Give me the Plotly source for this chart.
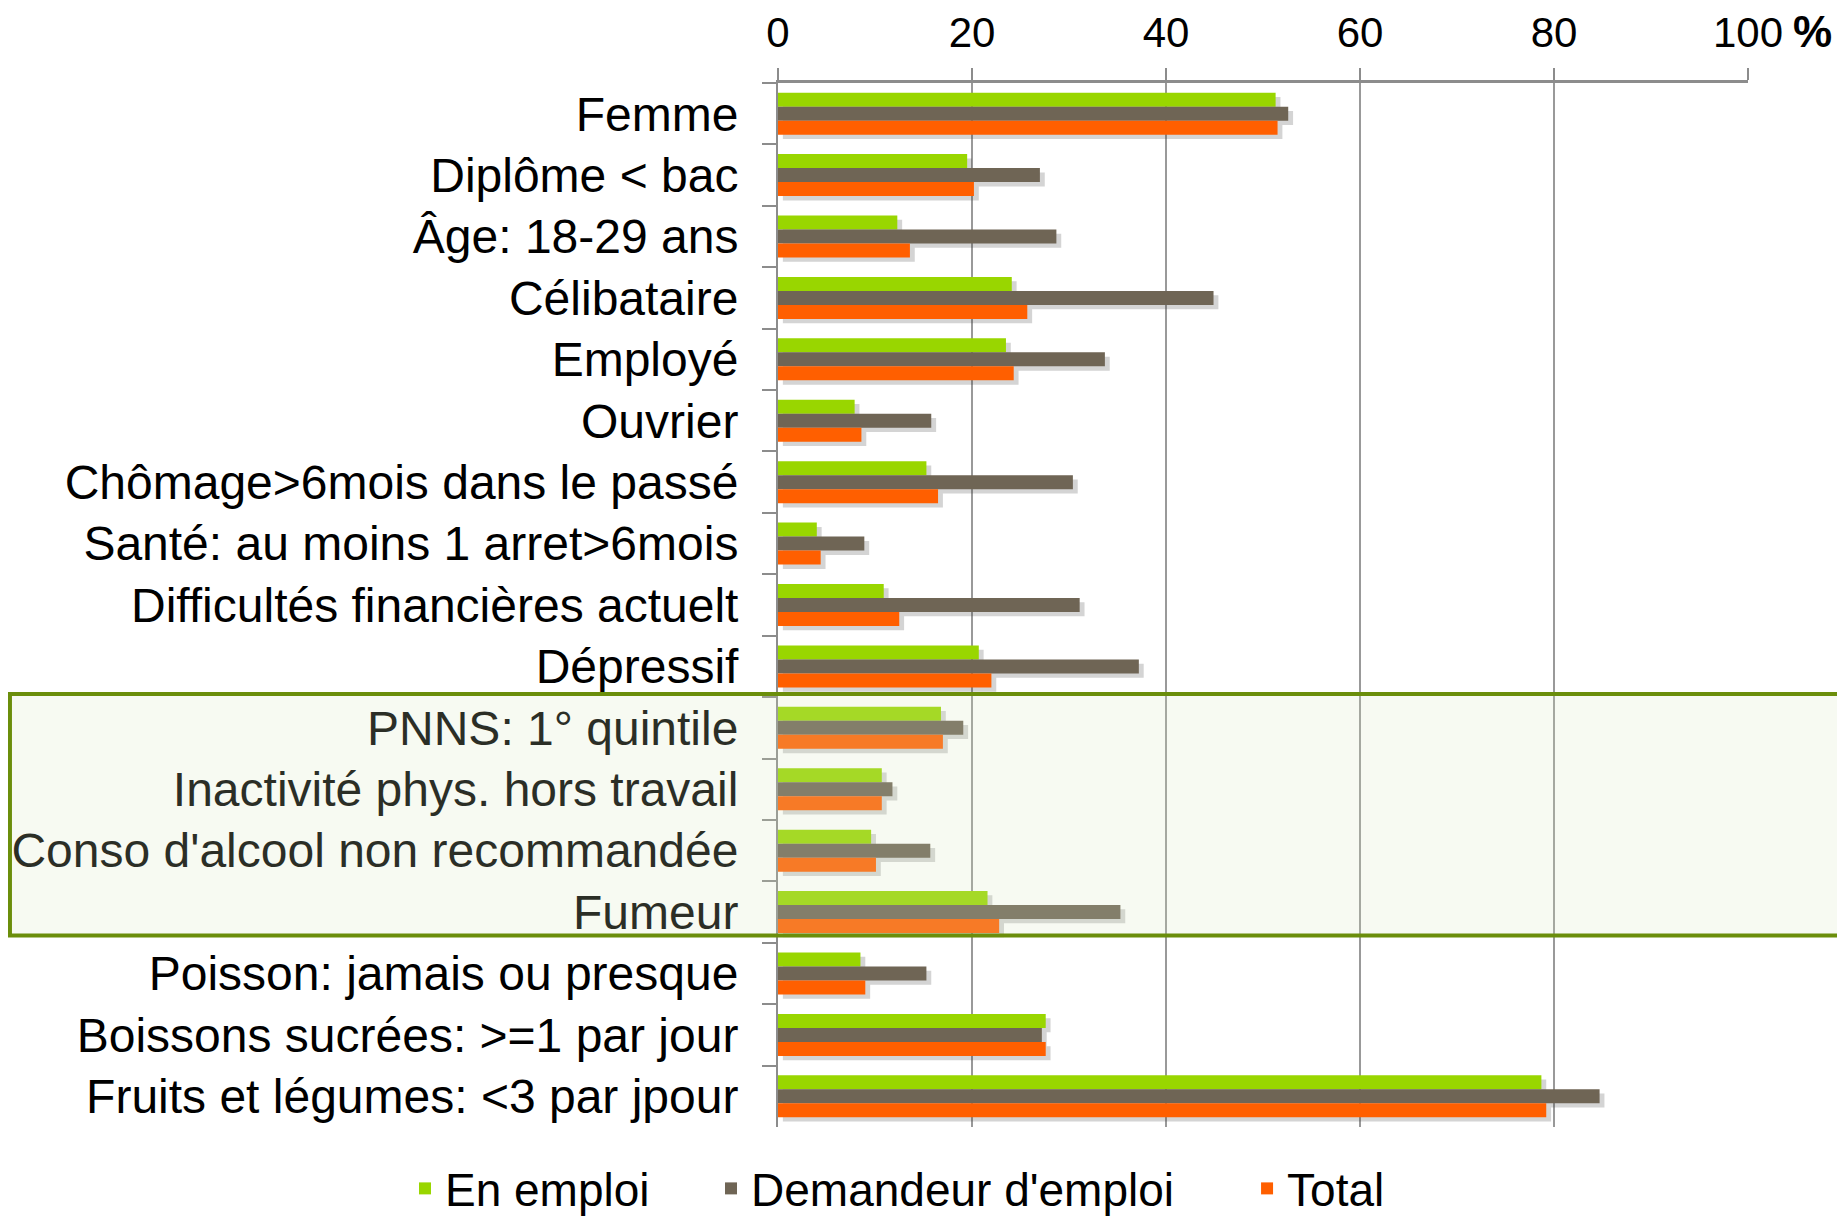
import plotly.graph_objects as go

# Categories (top to bottom) and series values, in %
categories = [
    "Femme",
    "Diplôme < bac",
    "Âge: 18-29 ans",
    "Célibataire",
    "Employé",
    "Ouvrier",
    "Chômage>6mois dans le passé",
    "Santé: au moins 1 arret>6mois",
    "Difficultés financières actuelt",
    "Dépressif",
    "PNNS: 1° quintile",
    "Inactivité phys. hors travail",
    "Conso d'alcool non recommandée",
    "Fumeur",
    "Poisson: jamais ou presque",
    "Boissons sucrées: >=1 par jour",
    "Fruits et légumes: <3 par jpour",
]
en_emploi = [51.3, 19.5, 12.3, 24.1, 23.5, 7.9, 15.3, 4.0, 10.9, 20.7,
             16.8, 10.7, 9.6, 21.6, 8.5, 27.6, 78.7]
demandeur = [52.6, 27.0, 28.7, 44.9, 33.7, 15.8, 30.4, 8.9, 31.1, 37.2,
             19.1, 11.8, 15.7, 35.3, 15.3, 27.2, 84.7]
total = [51.5, 20.2, 13.6, 25.7, 24.3, 8.6, 16.5, 4.4, 12.5, 22.0,
         17.0, 10.7, 10.1, 22.8, 9.0, 27.6, 79.2]

series = [
    ("En emploi", en_emploi, "#99d600", "legend"),
    ("Demandeur d'emploi", demandeur, "#6f6555", "legend2"),
    ("Total", total, "#ff5f00", "legend3"),
]

FONT = "Liberation Sans, Arial, sans-serif"
BAR_W = 0.228
offsets = [-0.342, -0.114, 0.114]

fig = go.Figure()

# soft drop shadows behind the bars
for (name, vals, color, leg), off in zip(series, offsets):
    fig.add_trace(go.Bar(
        y=categories, x=vals, base=0.5, orientation="h",
        width=BAR_W, offset=off + 0.07,
        marker=dict(color="rgba(60,60,60,0.22)", line=dict(width=0)),
        showlegend=False, hoverinfo="skip",
    ))

for (name, vals, color, leg), off in zip(series, offsets):
    fig.add_trace(go.Bar(
        y=categories, x=vals, name=name, orientation="h",
        width=BAR_W, offset=off,
        marker=dict(color=color, line=dict(width=0)),
        legend=leg, showlegend=True,
    ))

# highlighted block (PNNS .. Fumeur), drawn over the bars
fig.add_shape(type="rect", xref="paper", yref="paper",
              x0=-0.7918, x1=1.16, y0=0.1834, y1=0.4148,
              line=dict(color="#6b8e0b", width=4),
              fillcolor="rgba(215,230,190,0.2)", layer="above")

fig.add_annotation(text="<b>%</b>", xref="paper", yref="paper",
                   x=1.066, y=1.0498, xanchor="center", yanchor="middle",
                   showarrow=False, font=dict(size=44, color="#000", family=FONT))

legend_common = dict(orientation="h", xref="container", yref="container",
                     yanchor="middle", y=0.026, xanchor="left",
                     font=dict(size=46, color="#000", family=FONT),
                     bgcolor="rgba(0,0,0,0)")

# page body has an 8px margin, so the figure is 8px smaller than the window
fig.update_layout(
    width=1837, height=1212,
    margin=dict(l=770, r=97, t=75, b=93, autoexpand=False),
    plot_bgcolor="white", paper_bgcolor="white",
    showlegend=True,
    barmode="overlay",
    font=dict(family=FONT, color="#000"),
    legend=dict(x=0.2161, **legend_common),
    legend2=dict(x=0.3827, **legend_common),
    legend3=dict(x=0.6745, **legend_common),
    xaxis=dict(
        side="top", range=[0, 100], dtick=20, automargin=False,
        showgrid=True, gridcolor="#999999", gridwidth=2,
        showline=True, linecolor="#8c8c8c", linewidth=3,
        ticks="outside", ticklen=12, tickcolor="#8c8c8c", tickwidth=2,
        ticklabelstandoff=4,
        tickfont=dict(size=42, color="#000", family=FONT),
        zeroline=False,
    ),
    yaxis=dict(
        categoryorder="array", categoryarray=categories, autorange="reversed",
        automargin=False,
        showline=True, linecolor="#8c8c8c", linewidth=2,
        ticks="outside", ticklen=14, tickcolor="#8c8c8c", tickwidth=2,
        tickson="boundaries", ticklabelstandoff=28,
        tickfont=dict(size=48, color="#000", family=FONT),
        showgrid=False,
    ),
)

fig.write_html("out.html")
